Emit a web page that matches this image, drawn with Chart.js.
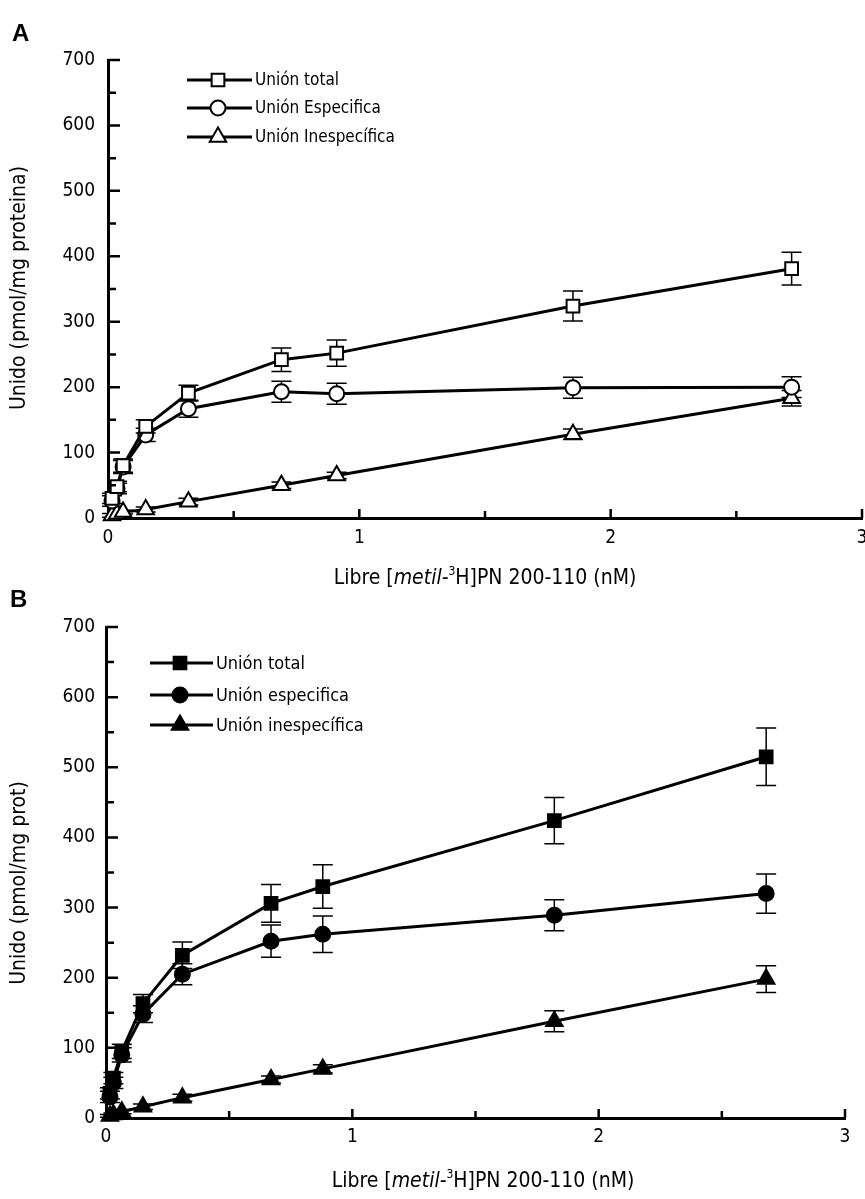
<!DOCTYPE html>
<html>
<head>
<meta charset="utf-8">
<script src="https://cdn.jsdelivr.net/npm/chart.js@4.4.0/dist/chart.umd.min.js"></script>
<style>
  html, body { margin: 0; padding: 0; background: #fff; }
  #wrap { position: relative; width: 865px; height: 1199px; }
  .panel { position: absolute; left: 0; width: 865px; }
  #panel-a { top: 0; height: 600px; }
  #panel-b { top: 585px; height: 614px; }
</style>
</head>
<body>
<div id="wrap">
  <div class="panel" id="panel-a"><canvas id="chart-a" width="865" height="600"></canvas></div>
  <div class="panel" id="panel-b"><canvas id="chart-b" width="865" height="614"></canvas></div>
</div>
<script>
// -- DATA ----------------------------------------------
// Panel A
const freeA = [0.016, 0.036, 0.06, 0.15, 0.32, 0.69, 0.91, 1.85, 2.72];
const totalA = [30, 48, 80, 140, 191, 242, 252, 324, 381];
const totalErrA = [8, 8, 10, 10, 12, 18, 20, 23, 25];
const specificA = [26, 45, 78, 127, 167, 193, 190, 199, 200];
const specificErrA = [8, 8, 10, 10, 13, 16, 16, 16, 16];
const nonspecA = [4, 6, 9, 13, 25, 50, 65, 128, 183];
const nonspecErrA = [3, 3, 3, 4, 5, 5, 5, 8, 12];
const labelsA = ["Unión total", "Unión Especifica", "Unión Inespecífica"];
const yTitleA = "Unido (pmol/mg proteina)";

// Panel B
const freeB = [0.016, 0.03, 0.064, 0.15, 0.31, 0.67, 0.88, 1.82, 2.68];
const totalB = [35, 57, 95, 163, 232, 306, 330, 424, 515];
const totalErrB = [8, 8, 10, 13, 19, 27, 31, 33, 41];
const specificB = [30, 50, 90, 148, 205, 252, 262, 289, 320];
const specificErrB = [8, 8, 10, 12, 15, 23, 26, 22, 28];
const nonspecB = [3, 5, 9, 16, 29, 55, 70, 138, 198];
const nonspecErrB = [2, 2, 3, 4, 5, 5, 6, 15, 19];
const labelsB = ["Unión total", "Unión especifica", "Unión inespecífica"];
const yTitleB = "Unido (pmol/mg prot)";

// Axes
const yMajorTicks = [0, 100, 200, 300, 400, 500, 600, 700];
const xMajorTicks = [0, 1, 2, 3];
const xTitleParts = [
  { text: "Libre [", italic: false, sup: false },
  { text: "metil-", italic: true, sup: false },
  { text: "3", italic: false, sup: true },
  { text: "H]PN 200-110 (nM)", italic: false, sup: false }
];

const FONT = '"Liberation Sans Narrow", "Arial Narrow", "DejaVu Sans Condensed", "Liberation Sans", sans-serif';
const pointStyles = ["rect", "circle", "triangle"];
const pointRadii = [9, 7.5, 9.5];

function pairs(xs, ys) {
  return xs.map((x, i) => ({ x: x, y: ys[i] }));
}

// -- PLUGINS -------------------------------------------
const errorBars = {
  id: "errorBars",
  beforeDatasetsDraw(chart) {
    const { ctx } = chart;
    const yScale = chart.scales.y;
    ctx.save();
    ctx.strokeStyle = "#000";
    ctx.lineWidth = 1.5;
    chart.data.datasets.forEach((ds, di) => {
      const meta = chart.getDatasetMeta(di);
      meta.data.forEach((pt, i) => {
        const err = ds.errors[i];
        const v = ds.data[i].y;
        const top = yScale.getPixelForValue(v + err);
        const bot = yScale.getPixelForValue(Math.max(0, v - err));
        const cap = 10;
        ctx.beginPath();
        ctx.moveTo(pt.x, top);
        ctx.lineTo(pt.x, bot);
        ctx.moveTo(pt.x - cap, top);
        ctx.lineTo(pt.x + cap, top);
        ctx.moveTo(pt.x - cap, bot);
        ctx.lineTo(pt.x + cap, bot);
        ctx.stroke();
      });
    });
    ctx.restore();
  }
};

// inward tick marks, major plus a minor one halfway
const inwardTicks = {
  id: "inwardTicks",
  afterDraw(chart) {
    const { ctx } = chart;
    const xs = chart.scales.x;
    const ys = chart.scales.y;
    const left = chart.chartArea.left;
    const bottom = chart.chartArea.bottom;
    ctx.save();
    ctx.strokeStyle = "#000";
    ctx.lineWidth = 2.5;
    ctx.beginPath();
    yMajorTicks.forEach((v, i) => {
      const py = ys.getPixelForValue(v);
      if (v > 0) {
        ctx.moveTo(left, py);
        ctx.lineTo(left + 12, py);
      }
      if (i > 0) {
        const pm = ys.getPixelForValue(v - 50);
        ctx.moveTo(left, pm);
        ctx.lineTo(left + 8, pm);
      }
    });
    xMajorTicks.forEach((v, i) => {
      const px = xs.getPixelForValue(v);
      if (v > 0) {
        ctx.moveTo(px, bottom);
        ctx.lineTo(px, bottom - 9);
      }
      if (i > 0) {
        const pm = xs.getPixelForValue(v - 0.5);
        ctx.moveTo(pm, bottom);
        ctx.lineTo(pm, bottom - 7);
      }
    });
    ctx.stroke();
    ctx.restore();
  }
};

const legendAndTitles = {
  id: "legendAndTitles",
  afterDraw(chart) {
    const { ctx } = chart;
    const o = chart.options.plugins.legendAndTitles;
    ctx.save();
    ctx.fillStyle = "#000";
    ctx.strokeStyle = "#000";

    // panel letter
    ctx.font = "bold 24px 'Liberation Sans', sans-serif";
    ctx.textBaseline = "alphabetic";
    ctx.textAlign = "left";
    ctx.fillText(o.letter, o.letterX, o.letterY);

    // legend rows
    chart.data.datasets.forEach((ds, i) => {
      const y = o.legendY[i];
      ctx.lineWidth = 3;
      ctx.beginPath();
      ctx.moveTo(o.legendX0, y);
      ctx.lineTo(o.legendX1, y);
      ctx.stroke();
      ctx.lineWidth = 2;
      ctx.fillStyle = ds.pointBackgroundColor;
      Chart.helpers.drawPoint(ctx, {
        pointStyle: ds.pointStyle,
        radius: ds.pointRadius,
        rotation: 0,
        borderWidth: 2
      }, o.legendMarkX, y);
      ctx.fillStyle = "#000";
      ctx.font = o.legendSize + "px " + FONT;
      ctx.textBaseline = "middle";
      ctx.fillText(ds.label, o.legendX1 + 3, y + 1);
    });

    // y title
    ctx.save();
    ctx.translate(o.yTitleX, o.yTitleY);
    ctx.rotate(-Math.PI / 2);
    ctx.font = "21px " + FONT;
    ctx.textAlign = "center";
    ctx.textBaseline = "middle";
    ctx.fillText(o.yTitle, 0, 0);
    ctx.restore();

    // x title with italic part and superscript
    const size = 21;
    const fontFor = (p) => (p.italic ? "italic " : "") + (p.sup ? 12 : size) + "px " + FONT;
    let total = 0;
    xTitleParts.forEach((p) => {
      ctx.font = fontFor(p);
      total += ctx.measureText(p.text).width;
    });
    let x = o.xTitleX - total / 2;
    ctx.textAlign = "left";
    ctx.textBaseline = "alphabetic";
    xTitleParts.forEach((p) => {
      ctx.font = fontFor(p);
      ctx.fillText(p.text, x, p.sup ? o.xTitleY - 9 : o.xTitleY);
      x += ctx.measureText(p.text).width;
    });
    ctx.restore();
  }
};

// -- CHARTS --------------------------------------------
function makeDatasets(xs, series, errs, labels, fill) {
  return series.map((ys, i) => ({
    label: labels[i],
    data: pairs(xs, ys),
    errors: errs[i],
    borderColor: "#000",
    borderWidth: 3,
    pointStyle: pointStyles[i],
    pointRadius: pointRadii[i],
    pointHoverRadius: pointRadii[i],
    pointBorderWidth: 2,
    pointBorderColor: "#000",
    pointBackgroundColor: fill,
    tension: 0,
    clip: false
  }));
}

function createPanel(id, datasets, geo) {
  const ctx = document.getElementById(id);
  const tickFont = { family: FONT, size: 19 };
  return new Chart(ctx, {
    type: "line",
    data: { datasets: datasets },
    options: {
      responsive: false,
      animation: false,
      layout: {
        autoPadding: false,
        padding: { top: geo.top, right: geo.right, left: 0, bottom: 0 }
      },
      scales: {
        x: {
          type: "linear",
          min: 0,
          max: 3,
          afterFit(s) {
            s.height = geo.height - geo.bottom;
            s.paddingLeft = 0;
            s.paddingRight = 0;
          },
          border: { color: "#000", width: 3 },
          // tick marks hidden (drawn inward by plugin) but tickLength spaces labels
          grid: { display: false, drawTicks: true, tickLength: geo.xPad },
          ticks: { stepSize: 1, color: "#000", font: tickFont, padding: 0, maxRotation: 0 }
        },
        y: {
          type: "linear",
          min: 0,
          max: 700,
          afterFit(s) {
            s.width = geo.left;
            s.paddingTop = 0;
            s.paddingBottom = 0;
          },
          border: { color: "#000", width: 3 },
          grid: { display: false, drawTicks: false },
          ticks: { stepSize: 100, color: "#000", font: tickFont, padding: geo.yPad }
        }
      },
      plugins: {
        legend: { display: false },
        tooltip: { enabled: false },
        legendAndTitles: geo.deco
      }
    },
    plugins: [errorBars, inwardTicks, legendAndTitles]
  });
}

// -- RENDER --------------------------------------------
createPanel("chart-a",
  makeDatasets(freeA, [totalA, specificA, nonspecA], [totalErrA, specificErrA, nonspecErrA], labelsA, "#fff"),
  {
    top: 60, right: 3, left: 108, bottom: 518, height: 600, xPad: 9, yPad: 13,
    deco: {
      letter: "A", letterX: 12, letterY: 41,
      legendY: [80, 108, 137], legendX0: 187, legendX1: 252, legendMarkX: 218, legendSize: 17,
      yTitle: yTitleA, yTitleX: 20, yTitleY: 288,
      xTitleX: 485, xTitleY: 584
    }
  });

createPanel("chart-b",
  makeDatasets(freeB, [totalB, specificB, nonspecB], [totalErrB, specificErrB, nonspecErrB], labelsB, "#000"),
  {
    top: 42, right: 20, left: 106, bottom: 533, height: 614, xPad: 8, yPad: 11,
    deco: {
      letter: "B", letterX: 10, letterY: 22,
      legendY: [78, 110, 140], legendX0: 150, legendX1: 213, legendMarkX: 180, legendSize: 18,
      yTitle: yTitleB, yTitleX: 20, yTitleY: 298,
      xTitleX: 483, xTitleY: 602
    }
  });
</script>
</body>
</html>
